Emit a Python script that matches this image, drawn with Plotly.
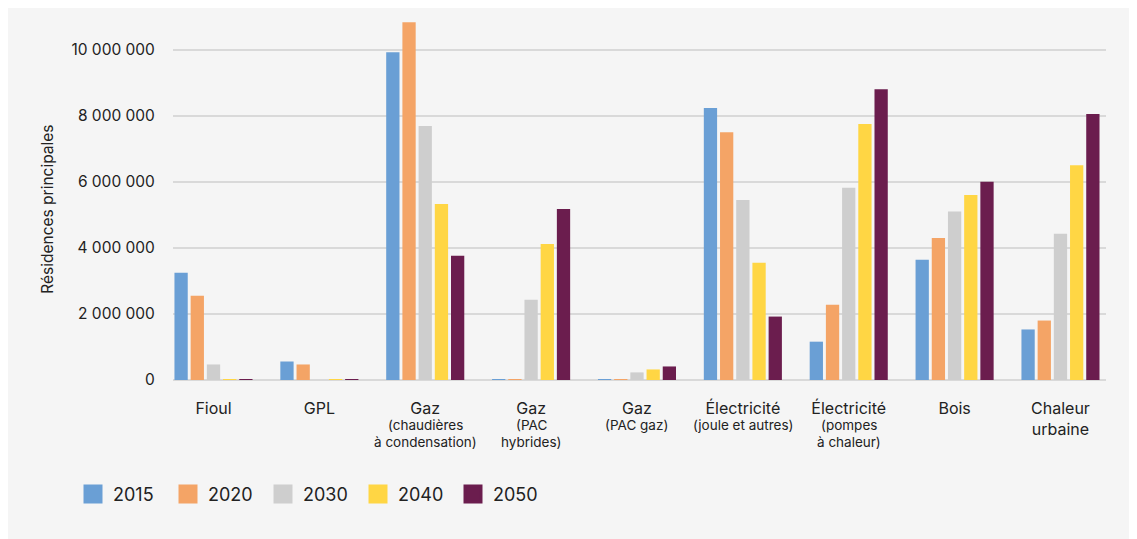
import plotly.graph_objects as go

categories = [
    "Fioul",
    "GPL",
    "Gaz (chaudières à condensation)",
    "Gaz (PAC hybrides)",
    "Gaz (PAC gaz)",
    "Électricité (joule et autres)",
    "Électricité (pompes à chaleur)",
    "Bois",
    "Chaleur urbaine",
]
main_labels = ["Fioul", "GPL", "Gaz", "Gaz", "Gaz", "Électricité", "Électricité", "Bois", "Chaleur<br>urbaine"]
sub_labels = [
    [],
    [],
    ["(chaudières", "à condensation)"],
    ["(PAC", "hybrides)"],
    ["(PAC gaz)"],
    ["(joule et autres)"],
    ["(pompes", "à chaleur)"],
    [],
    [],
]
years = ["2015", "2020", "2030", "2040", "2050"]
v2015 = [3250000, 560000, 9920000, 20000, 20000, 8230000, 1160000, 3640000, 1530000]
v2020 = [2550000, 470000, 10830000, 20000, 20000, 7500000, 2280000, 4300000, 1800000]
v2030 = [470000, 0, 7690000, 2430000, 230000, 5450000, 5820000, 5100000, 4430000]
v2040 = [20000, 20000, 5330000, 4120000, 320000, 3550000, 7750000, 5600000, 6500000]
v2050 = [20000, 20000, 3760000, 5180000, 410000, 1920000, 8800000, 6000000, 8050000]
colors = ["#6A9FD5", "#F4A466", "#CECECE", "#FFD644", "#6B1D4E"]
series = [v2015, v2020, v2030, v2040, v2050]

FONT = "Inter, Lato, sans-serif"
fig = go.Figure()
for name, vals, col in zip(years, series, colors):
    fig.add_trace(go.Bar(x=categories, y=vals, name=name, marker=dict(color=col, line=dict(width=0)),
                         showlegend=False, cliponaxis=False))
for name, col in zip(years, colors):
    fig.add_trace(go.Scatter(x=[None], y=[None], mode="markers", name=name,
                             marker=dict(symbol="square", size=16, color=col, line=dict(color=col, width=3))))

W, H = 1129, 531
L, R, T, B = 165, 31, 2, 158.5
pw = W - L - R
ph = H - T - B

annotations = [dict(text="Résidences principales", textangle=-90, xref="paper", yref="paper",
                    x=(40 - L) / pw, y=(380.5 - 210) / ph, xanchor="center", yanchor="middle",
                    showarrow=False, font=dict(size=15.5, color="#222222"))]
for cat, subs in zip(categories, sub_labels):
    for i, line in enumerate(subs):
        annotations.append(dict(text=line, xref="x", yref="paper", x=cat, y=-(426 + 16.5 * i - 380.5) / ph,
                                xanchor="center", yanchor="middle", showarrow=False,
                                font=dict(size=13.5, color="#222222")))

fig.update_layout(
    width=W, height=H,
    margin=dict(l=L, r=R, t=T, b=B),
    paper_bgcolor="#F5F5F5", plot_bgcolor="#F5F5F5",
    font=dict(family=FONT, size=15.5, color="#222222"),
    barmode="group", bargap=0.235, bargroupgap=0.18,
    separators=", ",
    showlegend=True,
    legend=dict(orientation="h", x=(65 - L) / pw, xanchor="left", y=-(495 - 380.5) / ph, yanchor="middle",
                font=dict(size=18, color="#222222"), entrywidth=50, entrywidthmode="pixels",
                bgcolor="rgba(0,0,0,0)"),
    xaxis=dict(range=[-0.3825, 8.43], showgrid=False, showline=False, zeroline=False,
               tickvals=categories, ticktext=main_labels,
               ticks="outside", ticklen=14, tickcolor="rgba(0,0,0,0)",
               tickfont=dict(size=16, color="#222222")),
    yaxis=dict(range=[0, 11.2e6], tickvals=[0, 2e6, 4e6, 6e6, 8e6, 10e6], tickformat=",d",
               showgrid=True, gridcolor="#D9D9D9", gridwidth=2, zeroline=True, zerolinecolor="#D9D9D9",
               zerolinewidth=2, showline=False, ticks="outside", ticklen=14, tickcolor="rgba(0,0,0,0)",
               tickfont=dict(size=15.5, color="#222222")),
    annotations=annotations,
)
fig.write_html("out.html")
